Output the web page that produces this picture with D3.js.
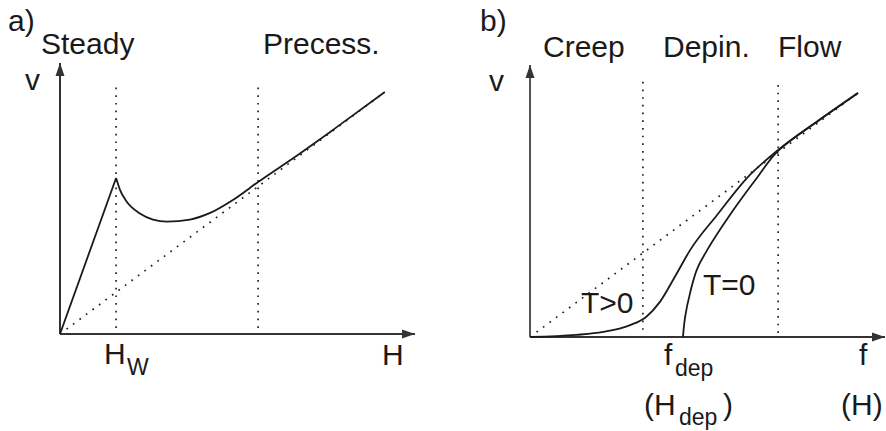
<!DOCTYPE html>
<html>
<head>
<meta charset="utf-8">
<script src="https://cdn.jsdelivr.net/npm/d3@7"></script>
<style>
  body { margin: 0; background: #fff; }
  svg text { font-family: "Liberation Sans", Arial, Helvetica, sans-serif; fill: #1a1a1a; }
</style>
</head>
<body>
<div id="chart"></div>
<script>
// panel a) : domain wall velocity v vs field H (units: arbitrary)
var linearRise = [[0, 0], [1.58, 5.90]];
var walkerCurve = [[1.58, 5.90], [1.69, 5.45], [1.86, 5.04], [2.25, 4.56], [2.62, 4.33], [3.01, 4.25],
    [3.66, 4.33], [4.23, 4.58], [4.87, 5.07], [5.58, 5.75], [6.76, 6.83], [7.69, 7.72], [9.15, 9.15]];
var diagA = [[0, 0], [9.15, 9.15]];
var markersA = [1.58, 5.58];           // H_W and precession onset
var regionsA = ["Steady", "Precess."];

// panel b) : v vs force f
var creepCurve = [[0, 0], [1.30, 0.08], [2.06, 0.19], [2.82, 0.45], [3.27, 0.76], [3.66, 1.33], [4.11, 2.35],
    [4.51, 3.29], [5.27, 4.62], [6.11, 6.02], [6.99, 7.08], [8.11, 8.18], [9.24, 9.24]];
var zeroTCurve = [[4.31, 0], [4.34, 0.45], [4.37, 0.76], [4.51, 1.67], [4.73, 2.65], [4.99, 3.29],
    [5.63, 4.62], [6.39, 6.02], [6.99, 7.05], [8.11, 8.18], [9.24, 9.24]];
var diagB = [[0, 0], [9.24, 9.24]];
var markersB = [3.18, 6.99];           // f_dep and flow onset
var regionsB = ["Creep", "Depin.", "Flow"];

var width = 886, height = 431;

var svg = d3.select("#chart")
    .append("svg")
    .attr("width", width)
    .attr("height", height)

var defs = svg.append("defs");
defs.append("marker")
    .attr("id", "arrow")
    .attr("markerUnits", "userSpaceOnUse")
    .attr("viewBox", "0 -5 13 10")
    .attr("refX", 13)
    .attr("refY", 0)
    .attr("markerWidth", 13)
    .attr("markerHeight", 10)
    .attr("orient", "auto")
    .append("path")
    .attr("d", "M0,-4.5L13,0L0,4.5Z")
    .attr("fill", "#333");

var xA = d3.scaleLinear().domain([0, 10]).range([60, 415]);
var yA = d3.scaleLinear().domain([0, 10.25]).range([334, 63]);
var xB = d3.scaleLinear().domain([0, 10]).range([530, 885]);
var yB = d3.scaleLinear().domain([0, 10.3]).range([337, 65]);

function drawAxes(x, y, yColor) {
    svg.append("line")
        .attr("x1", x(0)).attr("y1", y(0))
        .attr("x2", x(10)).attr("y2", y(0))
        .attr("stroke", "#333").attr("stroke-width", 2)
        .attr("marker-end", "url(#arrow)");
    svg.append("line")
        .attr("x1", x(0)).attr("y1", y(0))
        .attr("x2", x(0)).attr("y2", y.range()[1])
        .attr("stroke", yColor).attr("stroke-width", 2)
        .attr("marker-end", "url(#arrow)");
}

function dotted(x, y, pts, dash) {
    svg.append("path")
        .attr("d", d3.line().x(function (d) { return x(d[0]); }).y(function (d) { return y(d[1]); })(pts))
        .attr("fill", "none")
        .attr("stroke", "#222")
        .attr("stroke-width", 1.7)
        .attr("stroke-dasharray", dash);
}

function curve(x, y, pts, interp) {
    svg.append("path")
        .attr("d", d3.line()
            .x(function (d) { return x(d[0]); })
            .y(function (d) { return y(d[1]); })
            .curve(interp)(pts))
        .attr("fill", "none")
        .attr("stroke", "#1a1a1a")
        .attr("stroke-width", 1.8);
}

function label(x, y, str, size) {
    return svg.append("text")
        .attr("x", x)
        .attr("y", y)
        .attr("font-size", size + "px")
        .text(str);
}

// ---- panel a
markersA.forEach(function (h) {
    dotted(xA, yA, [[h, 0.23], [h, 9.49]], "1.7,6");
});
dotted(xA, yA, diagA, "1.7,6.4");
drawAxes(xA, yA, "#333");
curve(xA, yA, linearRise, d3.curveLinear);
curve(xA, yA, walkerCurve, d3.curveMonotoneX);

label(8, 31, "a)", 30);
label(41, 54, regionsA[0], 30);
label(263, 54, regionsA[1], 30);
label(25, 90, "v", 30);
label(104, 364, "H", 30);
label(127, 375, "W", 23);
label(382, 365, "H", 30);

// ---- panel b
dotted(xB, yB, [[markersB[0], 0.27], [markersB[0], 9.81]], "1.7,6");
dotted(xB, yB, [[markersB[1], 0.15], [markersB[1], 9.73]], "1.7,6");
dotted(xB, yB, diagB, "1.7,6.4");
drawAxes(xB, yB, "#555");
curve(xB, yB, creepCurve, d3.curveMonotoneX);
// T=0 branch leaves the axis vertically, so interpolate along v
curve(xB, yB, zeroTCurve, d3.curveMonotoneY);

label(480, 31, "b)", 30);
label(543, 57, regionsB[0], 30);
label(663, 57, regionsB[1], 30);
label(778, 57, regionsB[2], 30);
label(489, 91, "v", 30);
label(581, 313, "T>0", 30);
label(703, 295, "T=0", 30);
label(664, 365, "f", 30);
label(675, 376, "dep", 23);
label(644, 415, "(H", 30);
label(679, 425, "dep", 23);
label(723, 415, ")", 30);
label(859, 365, "f", 30);
label(841, 415, "(H)", 30);
</script>
</body>
</html>
